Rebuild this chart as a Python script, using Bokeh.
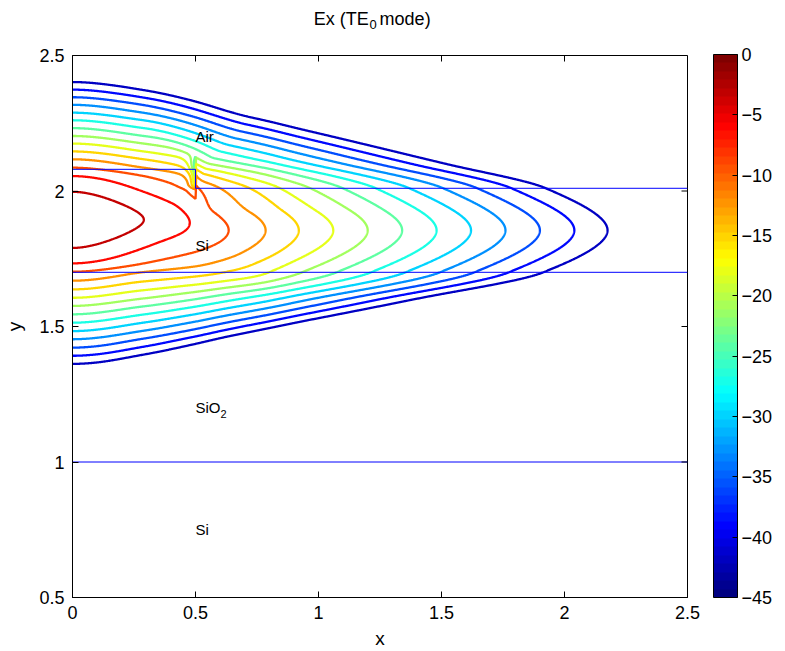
import numpy as np
from bokeh.plotting import figure
from bokeh.layouts import column
from bokeh.models import (ColorBar, LinearColorMapper, FixedTicker, Label, Range1d, AllLabels)
from bokeh.embed import file_html
from bokeh.resources import INLINE

# ---------------- data ----------------
levels = [-42, -39, -36, -33, -30, -27, -24, -21, -18, -15, -12, -9, -6, -3]
clim = [-45, 0]

# lateral profile (dB) along the guide centre: contour tips
x_tip = [-0.29, 0.0, 0.29, 0.484, 0.635, 0.785, 0.92, 1.06, 1.20, 1.34, 1.48, 1.62, 1.76, 1.90, 2.04, 2.175]
db_tip = [-3, 0, -3, -6, -9, -12, -15, -18, -21, -24, -27, -30, -33, -36, -39, -42]

# vertical profile under the rib (x = 0): contour crossings
y_rib = [1.362, 1.392, 1.422, 1.453, 1.483, 1.514, 1.545, 1.576, 1.606, 1.637, 1.669, 1.702, 1.733, 1.790,
         1.894,
         1.997, 2.055, 2.086, 2.117, 2.146, 2.175, 2.203, 2.232, 2.261, 2.289, 2.318, 2.346, 2.374, 2.402]
db_rib = [-42, -39, -36, -33, -30, -27, -24, -21, -18, -15, -12, -9, -6, -3,
          0,
          -3, -6, -9, -12, -15, -18, -21, -24, -27, -30, -33, -36, -39, -42]

# vertical profile in the slab region (far side)
y_slab = [1.36, 1.50, 1.60, 1.70, 1.855, 2.01, 2.10, 2.20, 2.316]
db_slab = [-46, -29, -17, -5.7, 0, -5.5, -14.2, -24, -35.7]

# field step at the rib side wall (dB): air pocket beside the wall / silicon just inside it
wall_gain_air = 2.5
wall_loss_si = -10.0

# structure outline
rib_half = 0.5
rib_top = 2.08
slab_top = 2.01
slab_bot = 1.70
box_bot = 1.0

# region labels
lab_text = ["Air", "Si", "SiO", "Si"]
lab_x = [0.5, 0.5, 0.5, 0.5]
lab_y = [2.2, 1.8, 1.2, 0.75]

title_parts = ["Ex (TE", "0", "mode)"]

x_ticks = [0, 0.5, 1, 1.5, 2, 2.5]
x_tick_labels = ["0", "0.5", "1", "1.5", "2", "2.5"]
y_ticks = [0.5, 1, 1.5, 2, 2.5]
y_tick_labels = ["0.5", "1", "1.5", "2", "2.5"]
cb_ticks = [-45, -40, -35, -30, -25, -20, -15, -10, -5, 0]
cb_tick_labels = ["\u221245", "\u221240", "\u221235", "\u221230", "\u221225", "\u221220", "\u221215", "\u221210", "\u22125", "0"]


# ---------------- helpers ----------------
def pchip(xk, yk, x):
    xk = np.asarray(xk, float); yk = np.asarray(yk, float); x = np.asarray(x, float)
    h = np.diff(xk); d = np.diff(yk) / h
    n = len(xk); m = np.zeros(n)
    for k in range(1, n - 1):
        if d[k - 1] * d[k] <= 0:
            m[k] = 0.0
        else:
            w1 = 2 * h[k] + h[k - 1]; w2 = h[k] + 2 * h[k - 1]
            m[k] = (w1 + w2) / (w1 / d[k - 1] + w2 / d[k])
    m[0] = d[0]; m[-1] = d[-1]
    i = np.clip(np.searchsorted(xk, x) - 1, 0, n - 2)
    t = (x - xk[i]) / h[i]
    tc = np.clip(t, 0, 1)
    h00 = 2 * tc**3 - 3 * tc**2 + 1; h10 = tc**3 - 2 * tc**2 + tc
    h01 = -2 * tc**3 + 3 * tc**2; h11 = tc**3 - tc**2
    out = h00 * yk[i] + h10 * h[i] * m[i] + h01 * yk[i + 1] + h11 * h[i] * m[i + 1]
    out = np.where(x < xk[0], yk[0] + m[0] * (x - xk[0]), out)
    out = np.where(x > xk[-1], yk[-1] + m[-1] * (x - xk[-1]), out)
    return out


def smooth(t):
    t = np.clip(t, 0, 1)
    return t * t * (3 - 2 * t)


def jet(v):
    v = np.clip(v, 0, 1)
    r = np.clip(1.5 - abs(4 * v - 3), 0, 1)
    g = np.clip(1.5 - abs(4 * v - 2), 0, 1)
    b = np.clip(1.5 - abs(4 * v - 1), 0, 1)
    return "#%02x%02x%02x" % (int(round(r * 255)), int(round(g * 255)), int(round(b * 255)))


# ---------------- field ----------------
xg = np.linspace(0, 2.5, 1001)
yg = np.linspace(0.5, 2.5, 1001)
X, Y = np.meshgrid(xg, yg)

Xdb = pchip(x_tip, db_tip, X)
Yr = pchip(y_rib, db_rib, Y)
Ys = pchip(y_slab, db_slab, Y)
hw = np.interp(Y, [0.5, 1.6, 1.75, 1.95, 2.05, 2.12, 2.2, 2.35, 2.5],
               [0.45, 0.4, 0.2, 0.1, 0.03, 0.08, 0.18, 0.3, 0.4])
w = smooth((X - (rib_half - hw)) / (2 * hw))
Z = Xdb + (1 - w) * Yr + w * Ys

# side-wall discontinuity of the normal field component
pocket = smooth((Y - 1.92) / 0.09) * (1 - smooth((Y - 2.055) / 0.07))
right = X > rib_half
dxr = np.clip(X - rib_half, 0, None)
dxl = np.clip(rib_half - X, 0, None)
Z = Z + np.where(right, wall_gain_air * np.exp(-dxr / 0.3) * pocket, 0.0)
inner = smooth((Y - 2.0) / 0.025) * (1 - smooth((Y - 2.085) / 0.065))
Z = Z + np.where(~right, wall_loss_si * np.exp(-dxl / 0.018) * inner, 0.0)

# ---------------- figures ----------------
FONT = "Liberation Sans"

# title strip (real text with a lowered subscript)
tf = figure(width=785, height=40, output_backend="svg", toolbar_location=None,
            x_range=Range1d(0, 785), y_range=Range1d(0, 40), x_axis_type=None, y_axis_type=None,
            min_border=0, min_border_left=0, min_border_right=0, min_border_top=0, min_border_bottom=0)
tf.outline_line_color = None
tf.grid.visible = False
tf.add_layout(Label(x=378, y=22, text=title_parts[0], text_font=FONT, text_font_size="18px",
                    text_color="black", text_align="right", text_baseline="alphabetic"))
tf.add_layout(Label(x=379, y=16, text=title_parts[1], text_font=FONT, text_font_size="13px",
                    text_color="black", text_align="left", text_baseline="alphabetic"))
tf.add_layout(Label(x=392, y=22, text=title_parts[2], text_font=FONT, text_font_size="18px",
                    text_color="black", text_align="left", text_baseline="alphabetic"))

p = figure(width=785, height=611, output_backend="svg", toolbar_location=None,
           x_range=Range1d(0, 2.5), y_range=Range1d(0.5, 2.5),
           min_border_left=72, min_border_top=15, min_border_bottom=53, min_border_right=98)
p.grid.visible = False
p.outline_line_color = "black"
p.outline_line_width = 1

line_colors = [jet((lv - clim[0]) / (clim[1] - clim[0])) for lv in levels]
p.contour(xg, yg, Z, levels, line_color=line_colors, line_width=2.3)

# structure outline
p.line([0, rib_half, rib_half, 2.5], [rib_top, rib_top, slab_top, slab_top], line_color="blue", line_width=1)
p.line([0, 2.5], [slab_bot, slab_bot], line_color="blue", line_width=1)
p.line([0, 2.5], [box_bot, box_bot], line_color="blue", line_width=1)

# region labels
for s, lx, ly in zip(lab_text, lab_x, lab_y):
    p.add_layout(Label(x=lx, y=ly, text=s, text_font=FONT, text_font_size="15px", text_color="black",
                       text_baseline="middle", text_align="left"))
p.add_layout(Label(x=lab_x[2], y=lab_y[2], text="2", text_font=FONT, text_font_size="11px", text_color="black",
                   x_offset=25, y_offset=-6, text_baseline="middle", text_align="left"))

# axes
for ax in p.xaxis + p.yaxis:
    ax.major_tick_in = 6
    ax.major_tick_out = 0
    ax.minor_tick_line_color = None
    ax.major_label_text_font = FONT
    ax.major_label_text_font_size = "18px"
    ax.major_label_text_color = "black"
    ax.axis_label_text_font = FONT
    ax.axis_label_text_font_size = "19px"
    ax.axis_label_text_font_style = "normal"
    ax.axis_label_text_color = "black"
    ax.axis_line_color = "black"
    ax.major_tick_line_color = "black"
p.xaxis.ticker = FixedTicker(ticks=x_ticks)
p.xaxis.major_label_overrides = dict(zip(x_ticks, x_tick_labels))
p.yaxis.ticker = FixedTicker(ticks=y_ticks)
p.yaxis.major_label_overrides = dict(zip(y_ticks, y_tick_labels))
p.xaxis.axis_label = "x"
p.yaxis.axis_label = "y"
p.xaxis.major_label_standoff = 8
p.yaxis.major_label_standoff = 8
p.xaxis.axis_label_standoff = 6
p.yaxis.axis_label_standoff = 11

# inward ticks on the top and right edges of the box
p.ray(x=x_ticks, y=[y_ticks[-1]] * len(x_ticks), length=6, angle=-np.pi / 2, length_units="screen",
      line_color="black", line_width=1)
p.ray(x=[x_ticks[-1]] * len(y_ticks), y=y_ticks, length=6, angle=np.pi, length_units="screen",
      line_color="black", line_width=1)

# colour bar
palette = [jet(i / 63) for i in range(64)]
mapper = LinearColorMapper(palette=palette, low=clim[0], high=clim[1])
cb = ColorBar(color_mapper=mapper, ticker=FixedTicker(ticks=cb_ticks),
              major_label_overrides=dict(zip(cb_ticks, cb_tick_labels)),
              major_label_policy=AllLabels(),
              width=24, height=543, margin=0, padding=0, label_standoff=4,
              bar_line_color="black", major_tick_line_color="black", major_tick_in=5, major_tick_out=0,
              major_label_text_font=FONT, major_label_text_font_size="18px", major_label_text_color="black",
              location=(26, 0), background_fill_color=None)
p.add_layout(cb, "right")

layout = column(tf, p, spacing=0)
open("out.html", "w").write(file_html(layout, INLINE))
